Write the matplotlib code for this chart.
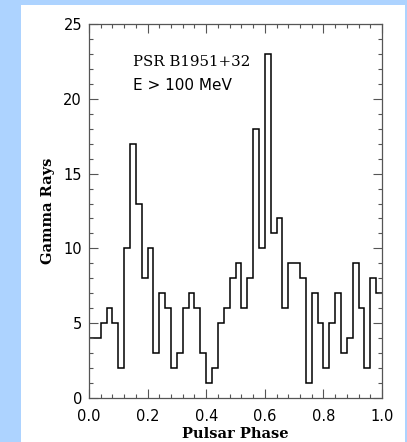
import numpy as np
import matplotlib
matplotlib.use('Agg')
import matplotlib.pyplot as plt
from matplotlib.patches import Rectangle
from matplotlib.ticker import MultipleLocator

# counts per phase bin (50 bins over 0..1)
counts = [4, 4, 5, 6, 5, 2, 10, 17, 13, 8,
          10, 3, 7, 6, 2, 3, 6, 7, 6, 3,
          1, 2, 5, 6, 8, 9, 6, 8, 18, 10,
          23, 11, 12, 6, 9, 9, 8, 1, 7, 5,
          2, 5, 7, 3, 4, 9, 6, 2, 8, 7]
n_bins = len(counts)
phase_edges = np.linspace(0.0, 1.0, n_bins + 1)

x_ticks = [0.0, 0.2, 0.4, 0.6, 0.8, 1.0]
x_labels = ['0.0', '0.2', '0.4', '0.6', '0.8', '1.0']
y_ticks = [0, 5, 10, 15, 20, 25]

W, H = 407, 442
fig = plt.figure(figsize=(W / 100, H / 100), dpi=100)
fig.patch.set_facecolor('#add3ff')
fig.patches.append(Rectangle((21 / W, 0), (405 - 21) / W, (H - 5) / H,
                             transform=fig.transFigure, facecolor='white',
                             edgecolor='none', zorder=-10))

ax = fig.add_axes([89 / W, (H - 398) / H, 293 / W, 374 / H])
ax.set_facecolor('white')

ax.stairs(counts, phase_edges, baseline=None, color='black', linewidth=1.1)

ax.set_xlim(0, 1)
ax.set_ylim(0, 25)
ax.set_xticks(x_ticks)
ax.set_xticklabels(x_labels)
ax.set_yticks(y_ticks)
ax.xaxis.set_minor_locator(MultipleLocator(0.04))
ax.yaxis.set_minor_locator(MultipleLocator(1))

ax.tick_params(which='both', direction='in', top=True, right=True,
               color='#555555', width=0.8)
ax.tick_params(which='major', length=6.5, labelsize=10.5)
ax.tick_params(axis='x', which='major', pad=8)
ax.tick_params(axis='y', which='major', pad=5)
ax.tick_params(which='minor', length=3.2)
for lab in ax.get_xticklabels() + ax.get_yticklabels():
    lab.set_family('DejaVu Sans')
for sp in ax.spines.values():
    sp.set_color('#555555')
    sp.set_linewidth(0.9)

ax.set_xlabel('Pulsar Phase', family='DejaVu Serif', fontsize=10.5,
              fontweight='bold')
ax.set_ylabel('Gamma Rays', family='DejaVu Serif', fontsize=10.5,
              fontweight='bold')
ax.xaxis.set_label_coords(0.5, -0.077)
ax.yaxis.set_label_coords(-0.115, 0.5)

ax.text(0.15, 22.46, 'PSR B1951+32', family='DejaVu Serif', fontsize=10.8,
        va='center', ha='left')
ax.text(0.15, 20.86, 'E > 100 MeV', family='DejaVu Sans', fontsize=11,
        va='center', ha='left')

fig.savefig('out.png', dpi=100, facecolor=fig.get_facecolor())
